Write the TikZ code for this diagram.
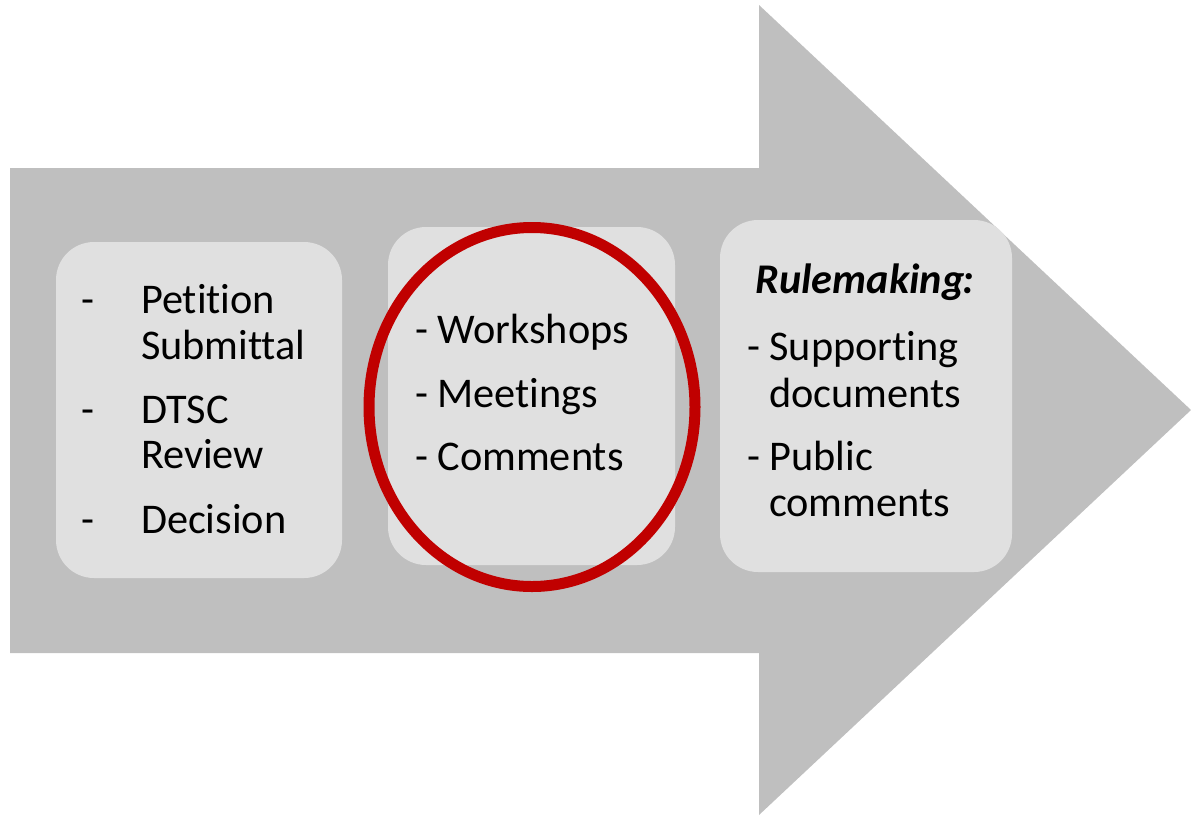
\documentclass[tikz,border=0pt]{standalone}
\usepackage{fontspec}
\setmainfont[Ligatures={NoCommon}]{Carlito}
\definecolor{arrowgray}{HTML}{BFBFBF}
\definecolor{boxgray}{HTML}{E0E0E0}
\definecolor{ringred}{HTML}{C00000}
\begin{document}
\begin{tikzpicture}[x=1pt,y=-1pt,
  box/.style={fill=boxgray, rounded corners=38pt, anchor=north west, inner sep=0pt, outer sep=0pt},
  txt/.style={anchor=base west, inner sep=0pt, outer sep=0pt, font=\fontsize{42.3}{46}\selectfont},
  ttl/.style={anchor=base, inner sep=0pt, outer sep=0pt, font=\fontsize{42.3}{46}\selectfont\bfseries\itshape},
  ring/.style={draw=ringred, line width=11pt}]
\useasboundingbox (0,0) rectangle (1191,815);
% big arrow
\fill[arrowgray] (10,168) -- (759,168) -- (759,5) -- (1191,410) -- (759,815) -- (759,653) -- (10,653) -- cycle;
% boxes
\node[box, minimum width=286pt, minimum height=336pt] (b1) at (56,242) {};
\node[box, minimum width=287pt, minimum height=338pt] (b2) at (388,227) {};
\node[box, minimum width=292pt, minimum height=352pt] (b3) at (720,220) {};
% ring
\draw[ring] (532,407) ellipse [x radius=163, y radius=179.5];
% box 1 text
\node[txt] (d1) at (81,313) {-};
\node[txt] (t1a) at (141,313) {Petition};
\node[txt] (t1b) at (141,359) {Submittal};
\node[txt] (d2) at (81,423) {-};
\node[txt] (t2a) at (141,423) {DTSC};
\node[txt] (t2b) at (141,468) {Review};
\node[txt] (d3) at (81,533) {-};
\node[txt] (t3a) at (141,533) {Decision};
% box 2 text
\node[txt] (w1) at (415,343) {- Workshops};
\node[txt] (w2) at (415,407) {- Meetings};
\node[txt] (w3) at (415,470) {- Comments};
% box 3 text
\node[ttl] (r0) at (865,293) {Rulemaking\kern-1.5pt:};
\node[txt] (r1) at (747,360) {- Supporting};
\node[txt] (r1b) at (769,407) {documents};
\node[txt] (r2) at (747,470) {- Public};
\node[txt] (r2b) at (769,516) {comments};
\end{tikzpicture}
\end{document}
